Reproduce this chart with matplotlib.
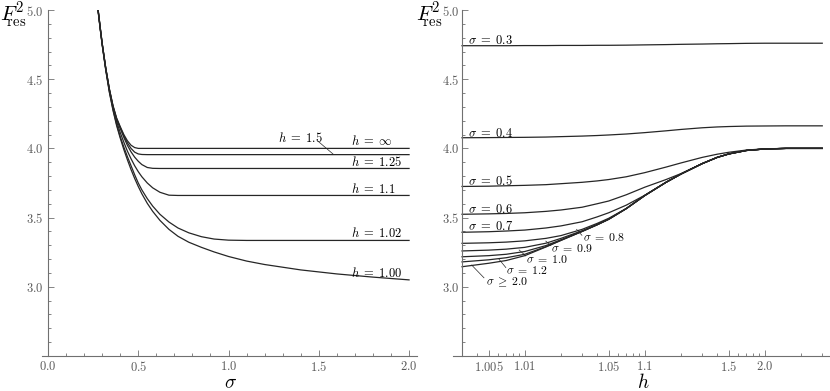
import matplotlib
matplotlib.use('Agg')
import matplotlib.pyplot as plt
import numpy as np
from matplotlib.ticker import FixedLocator, FixedFormatter

plt.rcParams['mathtext.fontset'] = 'cm'
plt.rcParams['font.family'] = 'DejaVu Serif'

# ---- left panel: F_res^2 against sigma, one curve per h ----
sigma = [0.275, 0.29, 0.30, 0.32, 0.34, 0.36, 0.38, 0.40, 0.42, 0.44, 0.46, 0.48, 0.50, 0.52, 0.55,
         0.58, 0.62, 0.67, 0.72, 0.78, 0.85, 0.92, 1.00, 1.10, 1.20, 1.40, 1.60, 1.80, 2.00]
F_h_inf = [5.03, 4.865, 4.76, 4.58, 4.43, 4.31, 4.22, 4.158, 4.10, 4.055, 4.023, 4.006, 4.0, 4.0, 4.0,
           4.0, 4.0, 4.0, 4.0, 4.0, 4.0, 4.0, 4.0, 4.0, 4.0, 4.0, 4.0, 4.0, 4.0]
F_h_150 = [5.03, 4.865, 4.76, 4.58, 4.428, 4.306, 4.215, 4.152, 4.092, 4.04, 4.0, 3.973, 3.96, 3.956, 3.955,
           3.955, 3.955, 3.955, 3.955, 3.955, 3.955, 3.955, 3.955, 3.955, 3.955, 3.955, 3.955, 3.955, 3.955]
F_h_125 = [5.03, 4.865, 4.76, 4.578, 4.425, 4.302, 4.21, 4.145, 4.08, 4.022, 3.975, 3.937, 3.907, 3.883, 3.862,
           3.856, 3.855, 3.855, 3.855, 3.855, 3.855, 3.855, 3.855, 3.855, 3.855, 3.855, 3.855, 3.855, 3.855]
F_h_110 = [5.025, 4.86, 4.755, 4.575, 4.42, 4.295, 4.195, 4.115, 4.045, 3.98, 3.925, 3.875, 3.832, 3.795, 3.75,
           3.715, 3.683, 3.662, 3.66, 3.66, 3.66, 3.66, 3.66, 3.66, 3.66, 3.66, 3.66, 3.66, 3.66]
F_h_102 = [5.02, 4.855, 4.75, 4.568, 4.41, 4.282, 4.175, 4.085, 4.01, 3.94, 3.875, 3.81, 3.75, 3.70, 3.637,
           3.583, 3.524, 3.468, 3.425, 3.39, 3.362, 3.345, 3.337, 3.335, 3.335, 3.335, 3.335, 3.335, 3.335]
F_h_100 = [5.02, 4.855, 4.75, 4.565, 4.405, 4.275, 4.165, 4.075, 3.992, 3.917, 3.847, 3.783, 3.725, 3.672, 3.603,
           3.545, 3.48, 3.415, 3.365, 3.322, 3.285, 3.252, 3.219, 3.186, 3.161, 3.122, 3.093, 3.07, 3.05]
left_curves = [F_h_inf, F_h_150, F_h_125, F_h_110, F_h_102, F_h_100]

# ---- right panel: F_res^2 against h, one curve per sigma ----
h = [1.003, 1.005, 1.007, 1.01, 1.015, 1.02, 1.03, 1.04, 1.05, 1.07, 1.1,
     1.15, 1.2, 1.3, 1.4, 1.5, 1.7, 2.0, 2.5, 3.0, 4.0]
F_s03 = [4.742, 4.742, 4.742, 4.743, 4.743, 4.744, 4.744, 4.745, 4.745, 4.746, 4.748,
         4.750, 4.752, 4.754, 4.756, 4.757, 4.759, 4.760, 4.760, 4.760, 4.760]
F_s04 = [4.077, 4.078, 4.079, 4.080, 4.082, 4.085, 4.089, 4.093, 4.097, 4.104, 4.114,
         4.127, 4.137, 4.149, 4.155, 4.158, 4.161, 4.162, 4.163, 4.163, 4.163]
F_s05 = [3.725, 3.727, 3.730, 3.733, 3.738, 3.745, 3.755, 3.765, 3.775, 3.795, 3.825,
         3.865, 3.895, 3.935, 3.958, 3.972, 3.988, 3.997, 4.0, 4.0, 4.0]
F_s06 = [3.524, 3.527, 3.530, 3.535, 3.545, 3.555, 3.575, 3.600, 3.620, 3.665, 3.720,
         3.775, 3.818, 3.890, 3.935, 3.960, 3.985, 3.996, 4.0, 4.0, 4.0]
F_s07 = [3.394, 3.398, 3.403, 3.410, 3.425, 3.440, 3.470, 3.505, 3.535, 3.590, 3.662,
         3.755, 3.815, 3.890, 3.935, 3.960, 3.985, 3.996, 4.0, 4.0, 4.0]
F_s08 = [3.314, 3.318, 3.323, 3.332, 3.350, 3.370, 3.415, 3.458, 3.495, 3.566, 3.660,
         3.755, 3.815, 3.890, 3.935, 3.960, 3.985, 3.996, 4.0, 4.0, 4.0]
F_s09 = [3.259, 3.265, 3.272, 3.285, 3.315, 3.350, 3.405, 3.450, 3.489, 3.565, 3.660,
         3.755, 3.815, 3.890, 3.935, 3.960, 3.985, 3.996, 4.0, 4.0, 4.0]
F_s10 = [3.217, 3.225, 3.235, 3.255, 3.298, 3.340, 3.401, 3.448, 3.488, 3.565, 3.660,
         3.755, 3.815, 3.890, 3.935, 3.960, 3.985, 3.996, 4.0, 4.0, 4.0]
F_s12 = [3.180, 3.195, 3.210, 3.235, 3.290, 3.336, 3.400, 3.448, 3.488, 3.565, 3.660,
         3.755, 3.815, 3.890, 3.935, 3.960, 3.985, 3.996, 4.0, 4.0, 4.0]
F_s20 = [3.145, 3.170, 3.190, 3.225, 3.288, 3.335, 3.400, 3.448, 3.488, 3.565, 3.660,
         3.755, 3.815, 3.890, 3.935, 3.960, 3.985, 3.996, 4.0, 4.0, 4.0]
right_curves = [F_s03, F_s04, F_s05, F_s06, F_s07, F_s08, F_s09, F_s10, F_s12, F_s20]

y_major = [3.0, 3.5, 4.0, 4.5, 5.0]
y_labels = ['$3.0$', '$3.5$', '$4.0$', '$4.5$', '$5.0$']
y_minor = [2.6, 2.7, 2.8, 2.9, 3.1, 3.2, 3.3, 3.4, 3.6, 3.7, 3.8, 3.9, 4.1, 4.2, 4.3, 4.4, 4.6, 4.7, 4.8, 4.9]
sig_major = [0.0, 0.5, 1.0, 1.5, 2.0]
sig_labels = ['$0.0$', '$0.5$', '$1.0$', '$1.5$', '$2.0$']
sig_minor = [0.1, 0.2, 0.3, 0.4, 0.6, 0.7, 0.8, 0.9, 1.1, 1.2, 1.3, 1.4, 1.6, 1.7, 1.8, 1.9]
h_major = [1.005, 1.01, 1.05, 1.1, 1.5, 2.0]
h_labels = ['$1.005$', '$1.01$', '$1.05$', '$1.1$', '$1.5$', '$2.0$']
h_minor = [1.004, 1.006, 1.007, 1.008, 1.009, 1.02, 1.03, 1.04, 1.06, 1.07, 1.08, 1.09,
           1.2, 1.3, 1.4, 1.6, 1.7, 1.8, 1.9, 3.0, 4.0]

line_c = '#262626'
axis_c = '#707070'
tick_c = '#5a5a5a'
lab_fs = 9


def style(ax, ypad):
    for s in ['top', 'right']:
        ax.spines[s].set_visible(False)
    for s in ['left', 'bottom']:
        ax.spines[s].set_color(axis_c)
        ax.spines[s].set_linewidth(0.8)
    ax.set_ylim(2.5, 5.0)
    ax.yaxis.set_major_locator(FixedLocator(y_major))
    ax.yaxis.set_major_formatter(FixedFormatter(y_labels))
    ax.yaxis.set_minor_locator(FixedLocator(y_minor))
    ax.tick_params(which='both', direction='in', color=axis_c, labelcolor=tick_c,
                   labelsize=9, width=0.6)
    ax.tick_params(which='major', length=4)
    ax.tick_params(which='minor', length=2)
    ax.tick_params(axis='y', pad=ypad)
    ax.tick_params(axis='x', pad=3)


fig = plt.figure(figsize=(8.3, 3.91), dpi=100)
ax1 = fig.add_axes([42 / 830, 35 / 391, 375 / 830, 346 / 391])
ax2 = fig.add_axes([453 / 830, 35 / 391, 377 / 830, 346 / 391])

# left
for F in left_curves:
    ax1.plot(sigma, F, color=line_c, lw=0.9)
style(ax1, 3.5)
ax1.set_xlim(-0.0332, 2.044)
ax1.spines['left'].set_position(('data', 0.0))
ax1.xaxis.set_major_locator(FixedLocator(sig_major))
ax1.xaxis.set_major_formatter(FixedFormatter(sig_labels))
ax1.xaxis.set_minor_locator(FixedLocator(sig_minor))

left_names = [r'$h\;=\;\infty$', r'$h\;=\;1.25$', r'$h\;=\;1.1$', r'$h\;=\;1.02$', r'$h\;=\;1.00$']
left_base = [4.025, 3.873, 3.678, 3.363, 3.074]
for name, yb in zip(left_names, left_base):
    ax1.text(1.677, yb, name, fontsize=lab_fs, ha='left', va='baseline')
ax1.text(1.274, 4.046, r'$h\;=\;1.5$', fontsize=lab_fs, ha='left', va='baseline')
ax1.plot([1.492, 1.581], [4.056, 3.957], color=line_c, lw=0.5)


# right, x axis is log(h - 1)
def fwd(x):
    return np.log10(np.maximum(np.asarray(x, dtype=float) - 1.0, 1e-12))


def inv(u):
    return 1.0 + 10.0 ** np.asarray(u, dtype=float)


ax2.set_xscale('function', functions=(fwd, inv))
for F in right_curves:
    ax2.plot(h, F, color=line_c, lw=0.9)
style(ax2, 2)
ax2.set_xlim(1.002523, 4.481)
ax2.spines['left'].set_position(('data', 1.003))
ax2.xaxis.set_major_locator(FixedLocator(h_major))
ax2.xaxis.set_major_formatter(FixedFormatter(h_labels))
ax2.xaxis.set_minor_locator(FixedLocator(h_minor))

right_names = [r'$\sigma\;=\;0.3$', r'$\sigma\;=\;0.4$', r'$\sigma\;=\;0.5$', r'$\sigma\;=\;0.6$', r'$\sigma\;=\;0.7$']
right_base = [4.751, 4.083, 3.735, 3.532, 3.412]
for name, yb in zip(right_names, right_base):
    ax2.text(1.00337, yb, name, fontsize=lab_fs, ha='left', va='baseline')

# labels with small leader lines (stacked tightly, as in the original)
lead_names = [r'$\sigma\;=\;0.8$', r'$\sigma\;=\;0.9$', r'$\sigma\;=\;1.0$', r'$\sigma\;=\;1.2$', r'$\sigma\;\geq\;2.0$']
lead_text = [(1.0304, 3.332), (1.01648, 3.252), (1.01019, 3.172), (1.00695, 3.093), (1.00475, 3.008)]
lead_from = [(1.0270, 3.415), (1.01496, 3.330), (1.00897, 3.266), (1.00611, 3.198), (1.00361, 3.157)]
lead_to = [(1.0299, 3.372), (1.01648, 3.298), (1.01019, 3.223), (1.00695, 3.139), (1.00457, 3.065)]
for name, t, a, b in zip(lead_names, lead_text, lead_from, lead_to):
    ax2.text(t[0], t[1], name, fontsize=8.5, ha='left', va='baseline')
    ax2.plot([a[0], b[0]], [a[1], b[1]], color=line_c, lw=0.5)

# axis titles; negative space tucks the subscript under the italic F
for x0 in (0, 416):
    fig.text(x0 / 830, 1 - 1 / 391, r'$F^{2}_{\!\!\!\mathrm{res}}$', fontsize=15, ha='left', va='top')
fig.text(231 / 830, 1 - 383 / 391, r'$\sigma$', fontsize=14, ha='center', va='center')
fig.text(643 / 830, 1 - 382 / 391, r'$h$', fontsize=14, ha='center', va='center')

plt.savefig('out.png', dpi=100)
